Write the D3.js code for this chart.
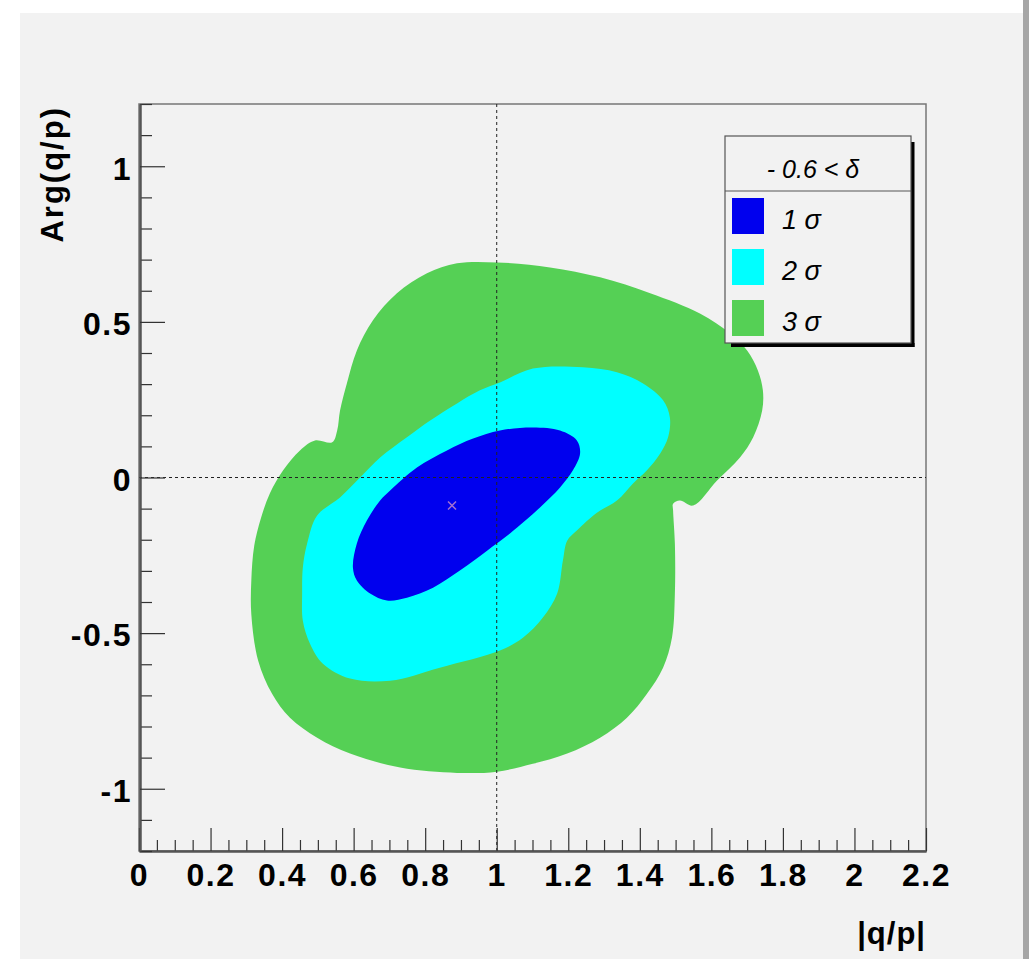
<!DOCTYPE html>
<html>
<head>
<meta charset="utf-8">
<script src="https://cdn.jsdelivr.net/npm/d3@7"></script>
<style>
  html, body { margin: 0; padding: 0; background: #ffffff; }
  svg { display: block; }
</style>
</head>
<body>
<svg id="chart" width="1029" height="959"></svg>
<script>
// ---- data ----
const xTicks = [0, 0.2, 0.4, 0.6, 0.8, 1, 1.2, 1.4, 1.6, 1.8, 2, 2.2];
const xTickLabels = ["0", "0.2", "0.4", "0.6", "0.8", "1", "1.2", "1.4", "1.6", "1.8", "2", "2.2"];
const yTicks = [-1, -0.5, 0, 0.5, 1];
const yTickLabels = ["-1", "-0.5", "0", "0.5", "1"];

// 3 sigma contour (|q/p|, Arg(q/p))
const sigma3 = [
  [0.889, 0.688], [1.001, 0.691], [1.149, 0.675], [1.289, 0.643], [1.429, 0.592],
  [1.568, 0.527], [1.652, 0.463], [1.700, 0.408], [1.730, 0.344], [1.744, 0.280],
  [1.742, 0.215], [1.717, 0.129], [1.680, 0.064], [1.616, -0.010], [1.549, -0.090],
  [1.512, -0.074], [1.493, -0.084], [1.493, -0.106], [1.498, -0.212], [1.498, -0.373],
  [1.490, -0.514], [1.465, -0.611], [1.420, -0.695], [1.364, -0.772], [1.289, -0.836],
  [1.197, -0.887], [1.101, -0.920], [1.001, -0.945], [0.889, -0.949], [0.730, -0.932],
  [0.590, -0.887], [0.498, -0.836], [0.422, -0.772], [0.372, -0.695], [0.333, -0.588],
  [0.314, -0.440], [0.314, -0.330], [0.322, -0.220], [0.341, -0.130], [0.366, -0.051],
  [0.403, 0.023], [0.450, 0.087], [0.492, 0.119], [0.540, 0.113], [0.554, 0.151],
  [0.562, 0.215], [0.581, 0.302], [0.609, 0.408], [0.654, 0.505], [0.721, 0.592],
  [0.805, 0.656]
];
// 2 sigma contour
const sigma2 = [
  [1.009, 0.305], [1.101, 0.350], [1.241, 0.354], [1.336, 0.338], [1.409, 0.302],
  [1.465, 0.248], [1.484, 0.193], [1.479, 0.129], [1.457, 0.077], [1.420, 0.023],
  [1.381, -0.019], [1.336, -0.074], [1.280, -0.113], [1.224, -0.170], [1.197, -0.203],
  [1.185, -0.267], [1.169, -0.373], [1.129, -0.450], [1.074, -0.514], [1.009, -0.556],
  [0.841, -0.611], [0.702, -0.653], [0.590, -0.646], [0.514, -0.598], [0.478, -0.534],
  [0.458, -0.460], [0.456, -0.373], [0.458, -0.289], [0.470, -0.212], [0.498, -0.122],
  [0.562, -0.064], [0.618, 0.000], [0.674, 0.064], [0.749, 0.129], [0.814, 0.183],
  [0.889, 0.238], [0.953, 0.280]
];
// 1 sigma contour
const sigma1 = [
  [1.009, 0.151], [1.101, 0.161], [1.177, 0.151], [1.224, 0.119], [1.233, 0.077],
  [1.213, 0.023], [1.177, -0.032], [1.121, -0.096], [1.037, -0.180], [0.973, -0.235],
  [0.897, -0.299], [0.822, -0.354], [0.749, -0.386], [0.693, -0.395], [0.646, -0.373],
  [0.609, -0.331], [0.598, -0.289], [0.609, -0.212], [0.637, -0.138], [0.674, -0.074],
  [0.702, -0.042], [0.777, 0.032], [0.861, 0.087], [0.934, 0.125]
];
const bestFit = [0.875, -0.09];

const legendLabels = ["1 σ", "2 σ", "3 σ"];
const legendHeader = "- 0.6 < δ";
const colors = ["#0000ee", "#00ffff", "#55d055"];

// ---- drawing ----
const svg = d3.select("#chart");
const FONT = "'Liberation Sans', Arial, Helvetica, sans-serif";

// canvas panel
svg.append("rect").attr("x", 20).attr("y", 13).attr("width", 1004).attr("height", 946).attr("fill", "#f2f2f2");
svg.append("rect").attr("x", 1023).attr("y", 0).attr("width", 6).attr("height", 959).attr("fill", "#a6a6a6");

const x = d3.scaleLinear().domain([0, 2.2]).range([139, 926]);
const y = d3.scaleLinear().domain([-1.2, 1.2]).range([851, 104]);

// frame
svg.append("rect").attr("x", 139).attr("y", 104).attr("width", 787).attr("height", 747)
  .attr("fill", "#f2f2f2").attr("stroke", "#777").attr("stroke-width", 1.5);

// contours
const line = d3.line().x(d => x(d[0])).y(d => y(d[1])).curve(d3.curveCatmullRomClosed.alpha(0.5));
[sigma3, sigma2, sigma1].forEach((c, i) => {
  svg.append("path").attr("d", line(c)).attr("fill", colors[2 - i]).attr("stroke", "none");
});

// dashed reference lines
svg.append("line").attr("x1", x(0)).attr("x2", x(2.2)).attr("y1", y(0)).attr("y2", y(0))
  .attr("stroke", "#222").attr("stroke-width", 1).attr("stroke-dasharray", "3,3");
svg.append("line").attr("x1", x(1)).attr("x2", x(1)).attr("y1", y(-1.2)).attr("y2", y(1.2))
  .attr("stroke", "#222").attr("stroke-width", 1).attr("stroke-dasharray", "3,3");

// best-fit marker
const mx = x(bestFit[0]), my = y(bestFit[1]);
svg.append("path").attr("d", `M${mx-4},${my-4}L${mx+4},${my+4}M${mx-4},${my+4}L${mx+4},${my-4}`)
  .attr("stroke", "#a070d0").attr("stroke-width", 1.5);

// minor tick values
const xMinor = d3.range(0, 45).map(i => i * 0.05).filter(v => Math.abs(v / 0.2 - Math.round(v / 0.2)) > 1e-6);
const yMinor = d3.range(-12, 13).map(i => i * 0.1).filter(v => Math.abs(v / 0.5 - Math.round(v / 0.5)) > 1e-6);

// x axis
const gxMinor = svg.append("g").attr("transform", "translate(0,851)")
  .call(d3.axisBottom(x).tickValues(xMinor).tickSize(-11).tickSizeOuter(0).tickFormat(""));
const gx = svg.append("g").attr("transform", "translate(0,851)")
  .call(d3.axisBottom(x).tickValues(xTicks).tickSize(-23).tickSizeOuter(0).tickPadding(12)
    .tickFormat((d, i) => xTickLabels[i]));
// y axis
const gyMinor = svg.append("g").attr("transform", "translate(140,0)")
  .call(d3.axisLeft(y).tickValues(yMinor).tickSize(-12).tickSizeOuter(0).tickFormat(""));
const gy = svg.append("g").attr("transform", "translate(140,0)")
  .call(d3.axisLeft(y).tickValues(yTicks).tickSize(-25).tickSizeOuter(0).tickPadding(8)
    .tickFormat((d, i) => yTickLabels[i]));

[gxMinor, gx, gyMinor, gy].forEach(g => {
  g.select(".domain").attr("stroke", "#555").attr("stroke-width", 2);
  g.selectAll(".tick line").attr("stroke", "#333").attr("stroke-width", 1.2);
});
[gx, gy].forEach(g => {
  g.selectAll("text").attr("fill", "#000").style("font-family", FONT)
    .style("font-weight", "bold").style("font-size", "32px").style("letter-spacing", "1.5px");
});
gy.selectAll("text").attr("dy", "0.4em");

// axis titles
svg.append("text").attr("x", 926).attr("y", 944).attr("text-anchor", "end")
  .style("font-family", FONT).style("font-weight", "bold").style("font-size", "31px")
  .style("letter-spacing", "1px").text("|q/p|");
svg.append("text").attr("transform", "translate(63,106) rotate(-90)").attr("text-anchor", "end")
  .style("font-family", FONT).style("font-weight", "bold").style("font-size", "31px")
  .style("letter-spacing", "2px").text("Arg(q/p)");

// legend
const L = { x: 725, y: 136, w: 186, h: 207, head: 55 };
svg.append("rect").attr("x", L.x + L.w).attr("y", L.y + 6).attr("width", 3.5).attr("height", L.h - 2).attr("fill", "#000");
svg.append("rect").attr("x", L.x + 6).attr("y", L.y + L.h).attr("width", L.w - 2.5).attr("height", 4).attr("fill", "#000");
svg.append("rect").attr("x", L.x).attr("y", L.y).attr("width", L.w).attr("height", L.h)
  .attr("fill", "#f2f2f2").attr("stroke", "#555").attr("stroke-width", 1.2);
svg.append("line").attr("x1", L.x).attr("x2", L.x + L.w).attr("y1", L.y + L.head).attr("y2", L.y + L.head)
  .attr("stroke", "#555").attr("stroke-width", 1.2);
svg.append("text").attr("x", L.x + L.w / 2 - 5).attr("y", 178).attr("text-anchor", "middle")
  .style("font-family", FONT).style("font-style", "italic").style("font-size", "25px").text(legendHeader);
legendLabels.forEach((lab, i) => {
  const top = 198 + i * 51;
  svg.append("rect").attr("x", 732).attr("y", top).attr("width", 32).attr("height", 36).attr("fill", colors[i]);
  svg.append("text").attr("x", 782).attr("y", top + 31)
    .style("font-family", FONT).style("font-style", "italic").style("font-size", "27px").text(lab);
});
</script>
</body>
</html>
